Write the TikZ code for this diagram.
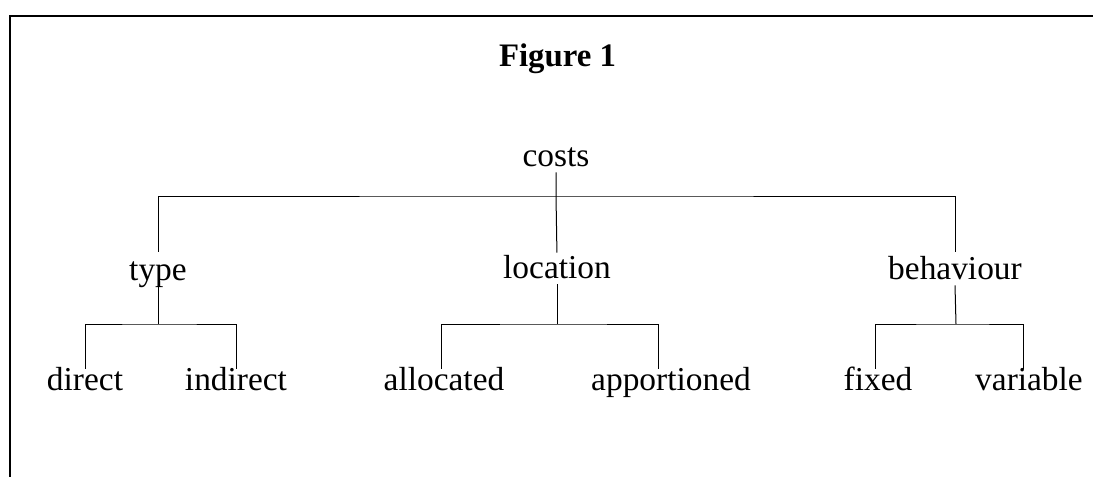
\documentclass[tikz,border=0pt]{standalone}
\usepackage{fontspec}
\setmainfont{Liberation Serif}
\usepackage{tikz}
\usetikzlibrary{positioning}

\begin{document}
\begin{tikzpicture}[
x=0.5pt, y=-0.5pt,
lbl/.style={
  anchor=base,
  inner xsep=0pt, inner ysep=3pt,
  text height=0.75em, text depth=0pt,
  font=\fontsize{16.7}{20}\selectfont
},
title/.style={lbl, font=\fontsize{16.4}{20}\selectfont\bfseries},
tree/.style={line width=0.5pt},
frame/.style={line width=1pt}
]
\useasboundingbox (0,0) rectangle (1093,477);

% frame
\draw[frame] (1093,15.5) -- (9.5,15.5) -- (9.5,477);

\node[title] (fig) at (557.5,66) {Figure 1};

% root
\node[lbl] (costs) at (556,166) {costs};

% middle level
\node[lbl] (type) at (158,280) {type};
\node[lbl] (location) at (557,278) {location};
\node[lbl] (behaviour) at (955,279) {behaviour};

% leaves
\node[lbl] (direct) at (85,390) {direct};
\node[lbl] (indirect) at (236,390) {indirect};
\node[lbl] (allocated) at (444,390) {allocated};
\node[lbl] (apportioned) at (671,390) {apportioned};
\node[lbl] (fixed) at (878,390) {fixed};
\node[lbl] (variable) at (1029,390) {variable};

\coordinate (costsbar) at (556,196);
\coordinate (typebar) at (158,324);
\coordinate (locationbar) at (557,324);
\coordinate (behaviourbar) at (956,324);

\draw[tree, shorten >=2pt] (costs.south) -- (costsbar) -- (location.north);
\draw[tree, shorten <=3.5pt, shorten >=3pt] (type.north) |- (costsbar) -| (behaviour.north);

\draw[tree] (type.south) -- (typebar);
\draw[tree] (direct.north) |- (typebar) -| (indirect.north);

\draw[tree] (location.south) -- (locationbar);
\draw[tree] ([xshift=-1.5pt]allocated.north) |- (locationbar) -| ([xshift=-6.5pt]apportioned.north);

\draw[tree] (behaviour.south) -- (behaviourbar);
\draw[tree] ([xshift=-1.5pt]fixed.north) |- (behaviourbar) -| ([xshift=-3pt]variable.north);
\end{tikzpicture}
\end{document}
